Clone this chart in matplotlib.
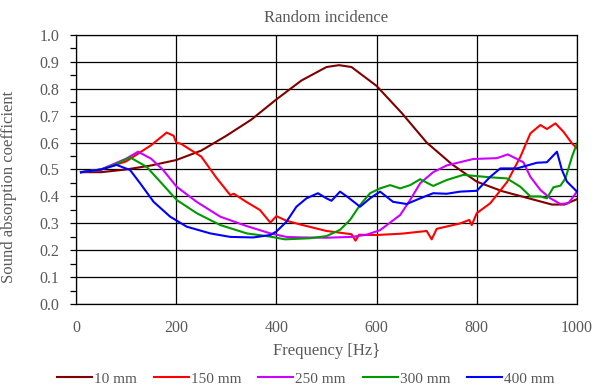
import matplotlib
matplotlib.use("Agg")
import matplotlib.pyplot as plt
from matplotlib.ticker import MultipleLocator

# frequency [Hz] / absorption coefficient
f_10 = [10, 50, 100, 150, 200, 250, 300, 350, 400, 450, 500, 525, 550, 600,
        650, 700, 750, 800, 850, 900, 950, 975, 1000]
a_10 = [0.49, 0.49, 0.50, 0.515, 0.535, 0.57, 0.625, 0.685, 0.76, 0.83, 0.88,
        0.887, 0.88, 0.81, 0.71, 0.60, 0.52, 0.455, 0.42, 0.395, 0.37, 0.37, 0.39]

f_150 = [10, 50, 100, 150, 181, 195, 200, 210, 250, 280, 308, 315, 340, 367,
         388, 400, 420, 450, 500, 550, 558, 565, 600, 650, 700, 710, 720, 767,
         785, 790, 800, 827, 861, 887, 907, 927, 940, 957, 973, 990, 1000]
a_150 = [0.49, 0.50, 0.53, 0.59, 0.637, 0.625, 0.60, 0.595, 0.548, 0.47, 0.405,
         0.41, 0.38, 0.35, 0.303, 0.327, 0.31, 0.295, 0.272, 0.26, 0.236, 0.258,
         0.257, 0.262, 0.272, 0.241, 0.28, 0.30, 0.313, 0.294, 0.338, 0.375,
         0.455, 0.547, 0.634, 0.665, 0.65, 0.671, 0.64, 0.597, 0.579]

f_250 = [10, 50, 100, 124, 150, 174, 201, 241, 288, 341, 388, 420, 450, 500,
         550, 580, 607, 647, 667, 687, 713, 740, 793, 840, 862, 893, 907, 927,
         947, 967, 983, 993, 1000]
a_250 = [0.49, 0.50, 0.54, 0.566, 0.54, 0.498, 0.436, 0.38, 0.325, 0.29, 0.263,
         0.25, 0.248, 0.247, 0.25, 0.258, 0.275, 0.331, 0.387, 0.449, 0.49,
         0.515, 0.539, 0.542, 0.556, 0.527, 0.473, 0.424, 0.393, 0.372, 0.375,
         0.40, 0.418]

f_300 = [10, 50, 80, 108, 141, 168, 201, 241, 288, 341, 388, 417, 467, 500,
         527, 547, 567, 587, 607, 627, 647, 667, 687, 713, 740, 773, 827, 860,
         887, 907, 927, 940, 953, 967, 977, 990, 1000]
a_300 = [0.49, 0.50, 0.52, 0.545, 0.51, 0.455, 0.387, 0.338, 0.294, 0.263,
         0.251, 0.241, 0.245, 0.253, 0.276, 0.313, 0.368, 0.412, 0.43, 0.442,
         0.43, 0.442, 0.464, 0.439, 0.461, 0.48, 0.471, 0.467, 0.436, 0.40, 0.40,
         0.393, 0.434, 0.44, 0.467, 0.547, 0.597]

f_400 = [10, 50, 81, 108, 128, 155, 188, 221, 268, 308, 354, 388, 400, 420,
         440, 460, 483, 500, 510, 527, 543, 567, 587, 607, 633, 660, 687, 713,
         740, 767, 800, 827, 847, 880, 920, 940, 960, 970, 980, 1000]
a_400 = [0.49, 0.50, 0.517, 0.498, 0.449, 0.38, 0.325, 0.288, 0.263, 0.25,
         0.248, 0.257, 0.27, 0.306, 0.362, 0.393, 0.412, 0.393, 0.384, 0.418,
         0.397, 0.362, 0.393, 0.418, 0.38, 0.372, 0.393, 0.412, 0.41, 0.418,
         0.421, 0.473, 0.504, 0.504, 0.525, 0.527, 0.566, 0.498, 0.455, 0.418]

series = [
    ("10 mm", f_10, a_10, "#800000"),
    ("150 mm", f_150, a_150, "#ff0000"),
    ("250 mm", f_250, a_250, "#cc00ff"),
    ("300 mm", f_300, a_300, "#009900"),
    ("400 mm", f_400, a_400, "#0000ff"),
]

text_color = "#595959"
plt.rcParams["font.family"] = ["Liberation Serif", "DejaVu Serif"]

fig = plt.figure(figsize=(5.95, 3.91), dpi=100)
ax = fig.add_axes([0.1277, 0.2217, 0.8420, 0.6896])

for label, f, a, color in series:
    ax.plot(f, a, color=color, lw=1.5, label=label)

ax.set_xlim(0, 1000)
ax.set_ylim(0, 1.0)
ax.xaxis.set_major_locator(MultipleLocator(200))
ax.yaxis.set_major_locator(MultipleLocator(0.1))
ax.yaxis.set_minor_locator(MultipleLocator(0.05))
ax.yaxis.set_major_formatter(matplotlib.ticker.FormatStrFormatter("%.1f"))
ax.grid(True, which="major", color="black", lw=0.9)
ax.set_axisbelow(True)
for sp in ax.spines.values():
    sp.set_color("black")
    sp.set_linewidth(0.9)

ax.tick_params(axis="x", length=0, pad=11, labelsize=11.5, labelcolor=text_color)
ax.tick_params(axis="y", which="major", length=4, width=0.9, pad=8,
               labelsize=11.5, labelcolor=text_color)
ax.tick_params(axis="y", which="minor", length=4, width=0.9)

ax.set_title("Random incidence", fontsize=12, color=text_color, pad=9)
ax.set_xlabel("Frequency [Hz}", fontsize=12, color=text_color, labelpad=5)
ax.set_ylabel("Sound absorption coefficient", fontsize=12, color=text_color)
ax.yaxis.set_label_coords(-0.118, 0.435)

fig.legend(loc="center", bbox_to_anchor=(0.514, 0.031), ncol=5,
           frameon=False, fontsize=11, handlelength=2.3, handletextpad=0.12,
           columnspacing=1.1, labelcolor=text_color)

fig.savefig("out.png", dpi=100)
